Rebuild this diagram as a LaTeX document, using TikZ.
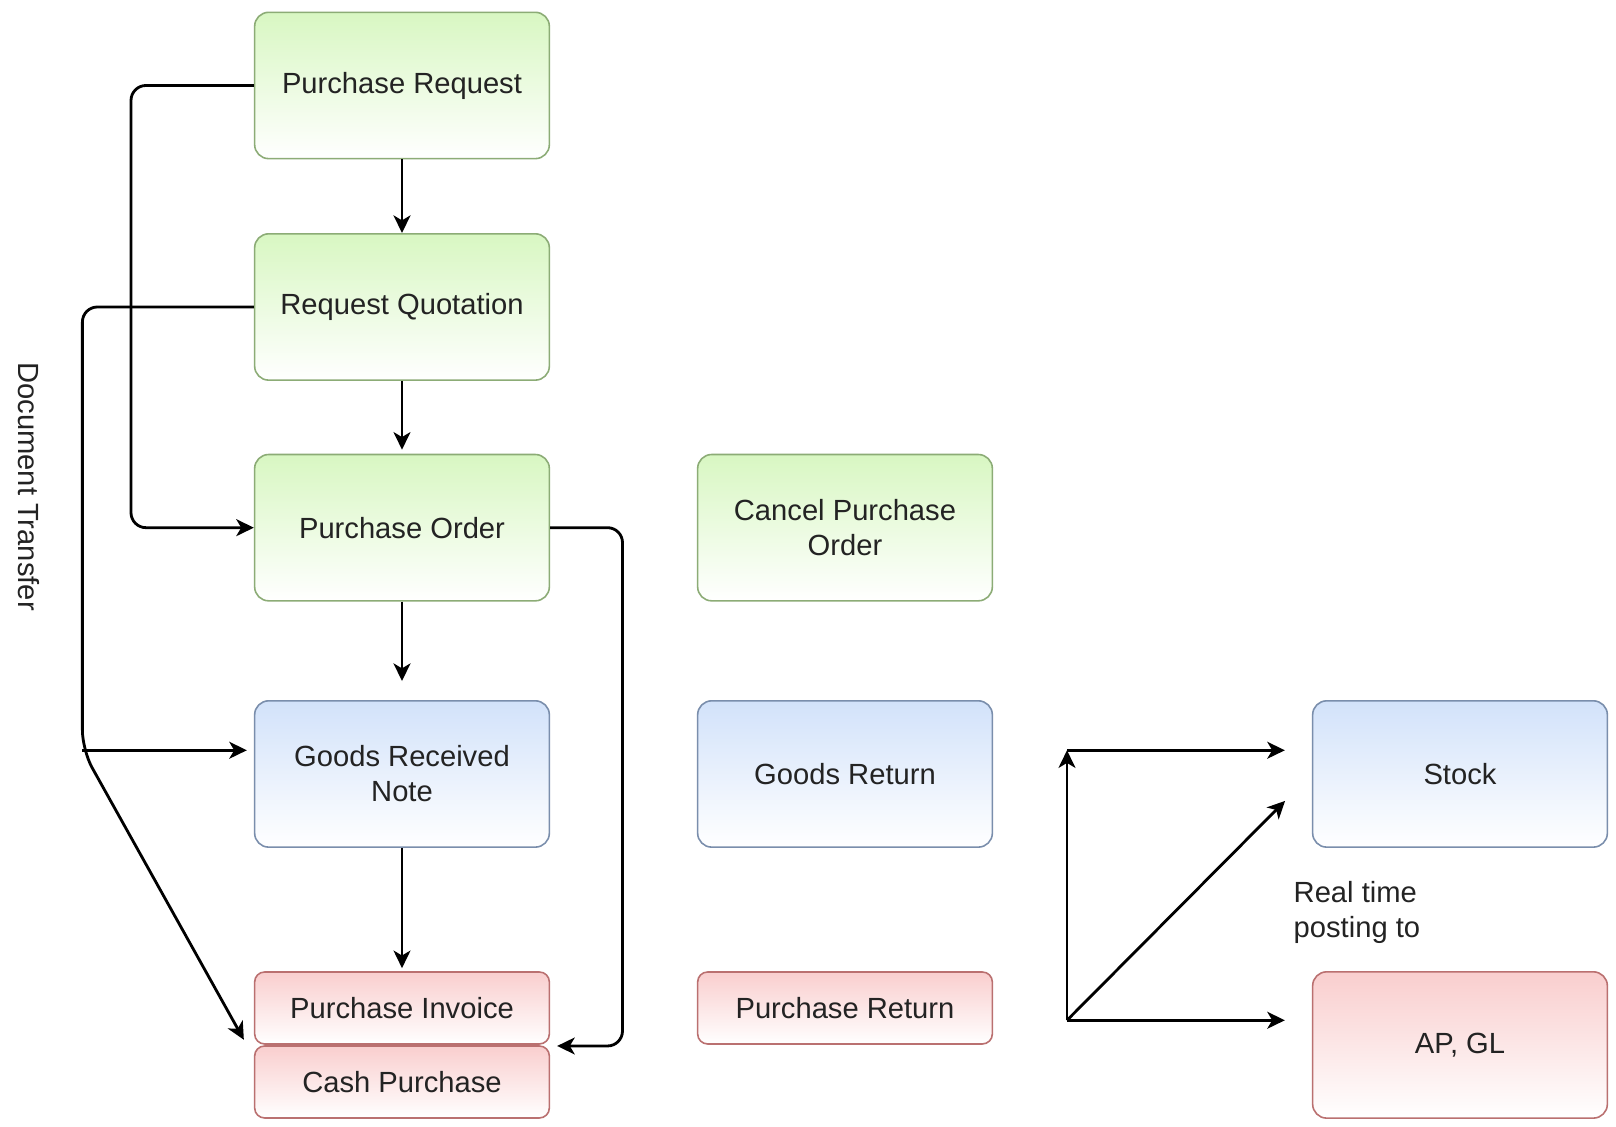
\documentclass[tikz,border=0pt]{standalone}
\usepackage{fontspec}
\setmainfont{Liberation Sans}
\usetikzlibrary{arrows.meta}
\definecolor{grntop}{RGB}{216,247,194}
\definecolor{grnline}{RGB}{140,172,118}
\definecolor{blutop}{RGB}{210,226,250}
\definecolor{bluline}{RGB}{122,142,172}
\definecolor{redtop}{RGB}{249,206,206}
\definecolor{redline}{RGB}{186,112,112}
\definecolor{txt}{RGB}{35,35,35}
\tikzset{
  box/.style={rounded corners=1.4mm, minimum width=2.947cm, minimum height=1.463cm,
    align=center, text=txt, font=\fontsize{8.3}{10}\selectfont, line width=0.45pt, inner sep=0pt},
  flat/.style={minimum height=0.72cm, rounded corners=1mm},
  greenbox/.style={box, draw=grnline, top color=grntop, bottom color=white},
  bluebox/.style={box, draw=bluline, top color=blutop, bottom color=white},
  redbox/.style={box, draw=redline, top color=redtop, bottom color=white},
  link/.style={-{Stealth[length=5pt,width=4.8pt,inset=1.4pt]}, line width=0.8pt, black},
  note/.style={text=txt, font=\fontsize{8.3}{10}\selectfont, align=left, inner sep=0pt}
}
\begin{document}
\begin{tikzpicture}
  \fill[white] (0,0) rectangle (16.16,11.27);
  \useasboundingbox (0,0) rectangle (16.16,11.27);

  % main flow
  \node[greenbox] (pr) at (4.02,10.415) {Purchase Request};
  \node[greenbox] (rq) at (4.02,8.20) {Request Quotation};
  \node[greenbox] (po) at (4.02,5.993) {Purchase Order};
  \node[bluebox] (grn) at (4.02,3.53) {Goods Received\\Note};
  \node[redbox, flat] (pi) at (4.02,1.19) {Purchase Invoice};
  \node[redbox, flat] (cp) at (4.02,0.45) {Cash Purchase};

  % reverse documents
  \node[greenbox] (cpo) at (8.45,5.993) {Cancel Purchase\\Order};
  \node[bluebox] (gr) at (8.45,3.53) {Goods Return};
  \node[redbox, flat] (prt) at (8.45,1.19) {Purchase Return};

  % posting
  \node[bluebox] (stock) at (14.60,3.53) {Stock};
  \node[redbox] (apgl) at (14.60,0.82) {AP, GL};
  \node[note, anchor=west] (rt) at (12.93,2.145) {Real time\\posting to};

  \node[note, rotate=-90] (dt) at (0.29,6.405) {Document Transfer};

  \draw[link] (pr) -- (rq);
  \draw[link] (rq.south) -- ([yshift=0.04cm]po.north);
  \draw[link, shorten >=0.19cm] (po) -- (grn);
  \draw[link] (grn.south) -- ([yshift=0.03cm]pi.north);

  \draw[link, rounded corners=1.5mm] (pr.west) -- (1.31,10.415) -- (1.31,5.993) -- (po.west);
  \coordinate (split) at (0.824,3.767);
  \draw[link, rounded corners=1.5mm] (rq.west) -- (0.824,8.20) [rounded corners=2mm] -- (split)
    -- ([xshift=-0.1cm,yshift=0.05cm]pi.south west);
  \draw[link, shorten >=0.07cm] (split) -- (grn.west |- split);
  \draw[link, rounded corners=1.5mm] (po.east) -- (6.225,5.993) -- (6.225,0.81)
    -- ([xshift=0.07cm]pi.south east |- 0,0.81);

  \coordinate (hub) at (10.67,1.067);
  \coordinate (up) at (10.67,3.767);
  \draw[link] (hub) -- (up);
  \draw[link, shorten >=0.27cm] (up) -- (stock.west |- up);
  \draw[link, shorten >=0.38cm] (hub) -- (stock.west);
  \draw[link, shorten >=0.27cm] (hub) -- (apgl.west |- hub);
\end{tikzpicture}
\end{document}
